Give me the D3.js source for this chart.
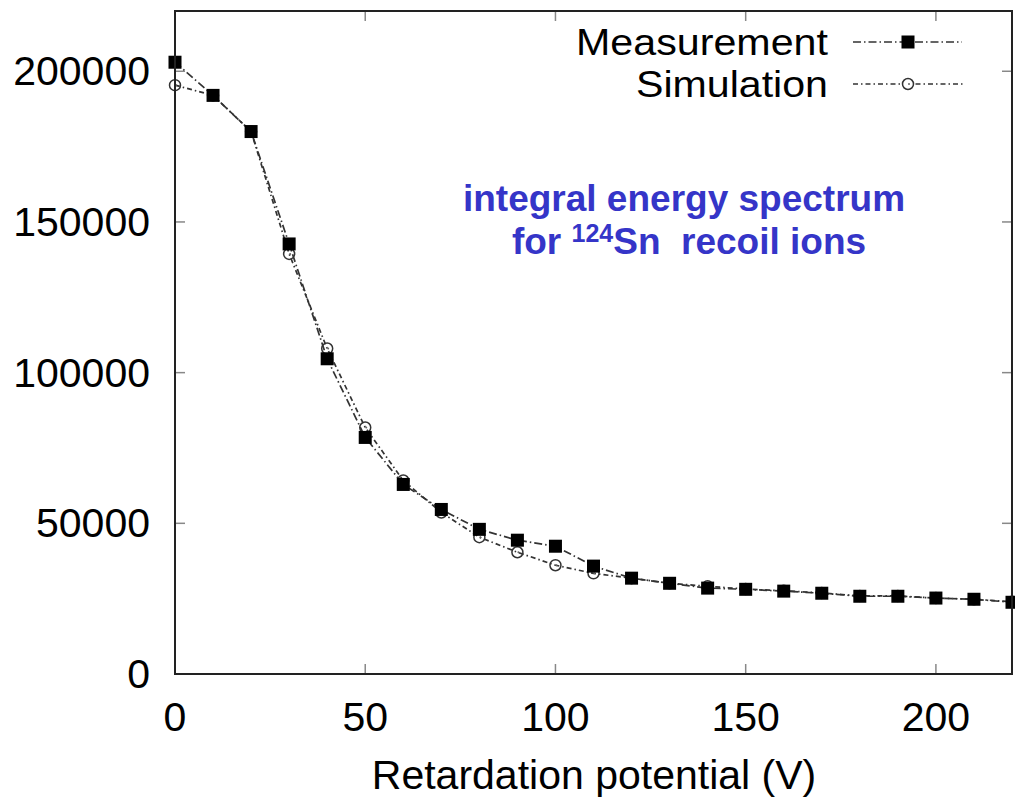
<!DOCTYPE html>
<html>
<head>
<meta charset="utf-8">
<script src="https://cdn.jsdelivr.net/npm/d3@7"></script>
<style>
  html, body { margin: 0; padding: 0; background: #fff; }
  svg text { font-family: "Liberation Sans", Arial, Helvetica, sans-serif; }
</style>
</head>
<body>
<svg id="chart" width="1015" height="801"></svg>
<script>
// ---- data ----
const voltages = [0,10,20,30,40,50,60,70,80,90,100,110,120,130,140,150,160,170,180,190,200,210,220];
const measurement = [203000,192000,180000,142700,104600,78500,62900,54600,48000,44400,42400,35800,31800,30100,28500,28100,27500,26800,25800,25800,25200,24800,23800];
const simulation  = [195400,192000,180000,139400,108000,81800,64200,53600,45400,40400,36100,33400,31800,30100,29100,28200,27600,26900,25900,25900,25200,24800,24000];
const xTicks = [0,50,100,150,200];
const yTicks = [0,50000,100000,150000,200000];
const seriesNames = ["Measurement","Simulation"];
const xTitle = "Retardation potential (V)";
const noteLine1 = "integral energy spectrum";

// ---- layout ----
const svg = d3.select("#chart");
const L = 175, R = 1012, T = 11, B = 674;
const x = d3.scaleLinear().domain([0,220]).range([L,R]);
const y = d3.scaleLinear().domain([0,220000]).range([B,T]);
const fs = 41;

// ticks (inside, mirrored)
const tickColor = "#888";
const tl = 10;
const tg = svg.append("g").attr("stroke", tickColor).attr("stroke-width", 1.5);
xTicks.forEach(v => {
  if (v === 0) return;
  tg.append("line").attr("x1", x(v)).attr("x2", x(v)).attr("y1", B).attr("y2", B - tl);
  tg.append("line").attr("x1", x(v)).attr("x2", x(v)).attr("y1", T).attr("y2", T + tl);
});
yTicks.forEach(v => {
  if (v === 0) return;
  tg.append("line").attr("x1", L).attr("x2", L + tl).attr("y1", y(v)).attr("y2", y(v));
  tg.append("line").attr("x1", R).attr("x2", R - tl).attr("y1", y(v)).attr("y2", y(v));
});

// tick labels
svg.append("g").selectAll("text").data(xTicks).join("text")
  .attr("x", d => x(d)).attr("y", 731)
  .attr("text-anchor", "middle").attr("font-size", fs).attr("fill", "#000")
  .text(d => d);
svg.append("g").selectAll("text").data(yTicks).join("text")
  .attr("x", 150).attr("y", d => y(d) + 14)
  .attr("text-anchor", "end").attr("font-size", fs).attr("fill", "#000")
  .text(d => d);

// axis title
svg.append("text").attr("x", 594).attr("y", 789).attr("text-anchor", "middle")
  .attr("font-size", fs).attr("fill", "#000").text(xTitle);

// annotation
const blue = "#3535c8";
svg.append("text").attr("x", 684).attr("y", 211).attr("text-anchor", "middle")
  .attr("font-size", 37).attr("font-weight", "bold").attr("fill", blue).text(noteLine1);
const t2 = svg.append("text").attr("x", 689).attr("y", 254).attr("text-anchor", "middle")
  .attr("font-size", 37).attr("font-weight", "bold").attr("fill", blue)
  .style("white-space", "pre");
t2.append("tspan").text("for ");
t2.append("tspan").attr("font-size", 25).attr("dy", -12).text("124");
t2.append("tspan").attr("dy", 12).text("Sn  recoil ions");

// lines
const lineGen = d3.line().x(d => x(d[0])).y(d => y(d[1]));
const simPts = voltages.map((v,i) => [v, simulation[i]]);
const meaPts = voltages.map((v,i) => [v, measurement[i]]);
const lineColor = "#333";
svg.append("path").datum(simPts).attr("d", lineGen).attr("fill", "none")
  .attr("stroke", lineColor).attr("stroke-width", 1.7).attr("stroke-dasharray", "5,3,1.5,3");
svg.append("path").datum(meaPts).attr("d", lineGen).attr("fill", "none")
  .attr("stroke", lineColor).attr("stroke-width", 1.7).attr("stroke-dasharray", "8,3,1.5,3");

// markers
function circleMark(g, cx, cy) {
  g.append("circle").attr("cx", cx).attr("cy", cy).attr("r", 5.5)
    .attr("fill", "none").attr("stroke", "#333").attr("stroke-width", 1.5);
  g.append("circle").attr("cx", cx + 1).attr("cy", cy).attr("r", 1).attr("fill", "#666");
}
const sq = 13;
const gs = svg.append("g");
simPts.forEach(p => circleMark(gs, x(p[0]), y(p[1])));
svg.append("g").selectAll("rect").data(meaPts).join("rect")
  .attr("x", d => x(d[0]) - sq/2).attr("y", d => y(d[1]) - sq/2)
  .attr("width", sq).attr("height", sq).attr("fill", "#000");

// frame
svg.append("rect").attr("x", L).attr("y", T).attr("width", R - L).attr("height", B - T)
  .attr("fill", "none").attr("stroke", "#222").attr("stroke-width", 2);

// legend
const lg = svg.append("g");
const legY = [42, 84];
const legW = [252, 192];
lg.selectAll("text").data(seriesNames).join("text")
  .attr("x", 828).attr("y", (d,i) => legY[i] + 13)
  .attr("text-anchor", "end").attr("font-size", 36).attr("fill", "#000")
  .attr("textLength", (d,i) => legW[i]).attr("lengthAdjust", "spacingAndGlyphs")
  .text(d => d);
lg.append("line").attr("x1", 853).attr("x2", 962).attr("y1", legY[0]).attr("y2", legY[0])
  .attr("stroke", lineColor).attr("stroke-width", 1.7).attr("stroke-dasharray", "8,3,1.5,3");
lg.append("rect").attr("x", 908 - sq/2).attr("y", legY[0] - sq/2).attr("width", sq).attr("height", sq).attr("fill", "#000");
lg.append("line").attr("x1", 853).attr("x2", 963).attr("y1", legY[1]).attr("y2", legY[1])
  .attr("stroke", lineColor).attr("stroke-width", 1.7).attr("stroke-dasharray", "5,3,1.5,3");
lg.append("rect").attr("x", 902).attr("y", legY[1] - 6).attr("width", 12).attr("height", 12).attr("fill", "#fff");
circleMark(lg, 908, legY[1]);
</script>
</body>
</html>
